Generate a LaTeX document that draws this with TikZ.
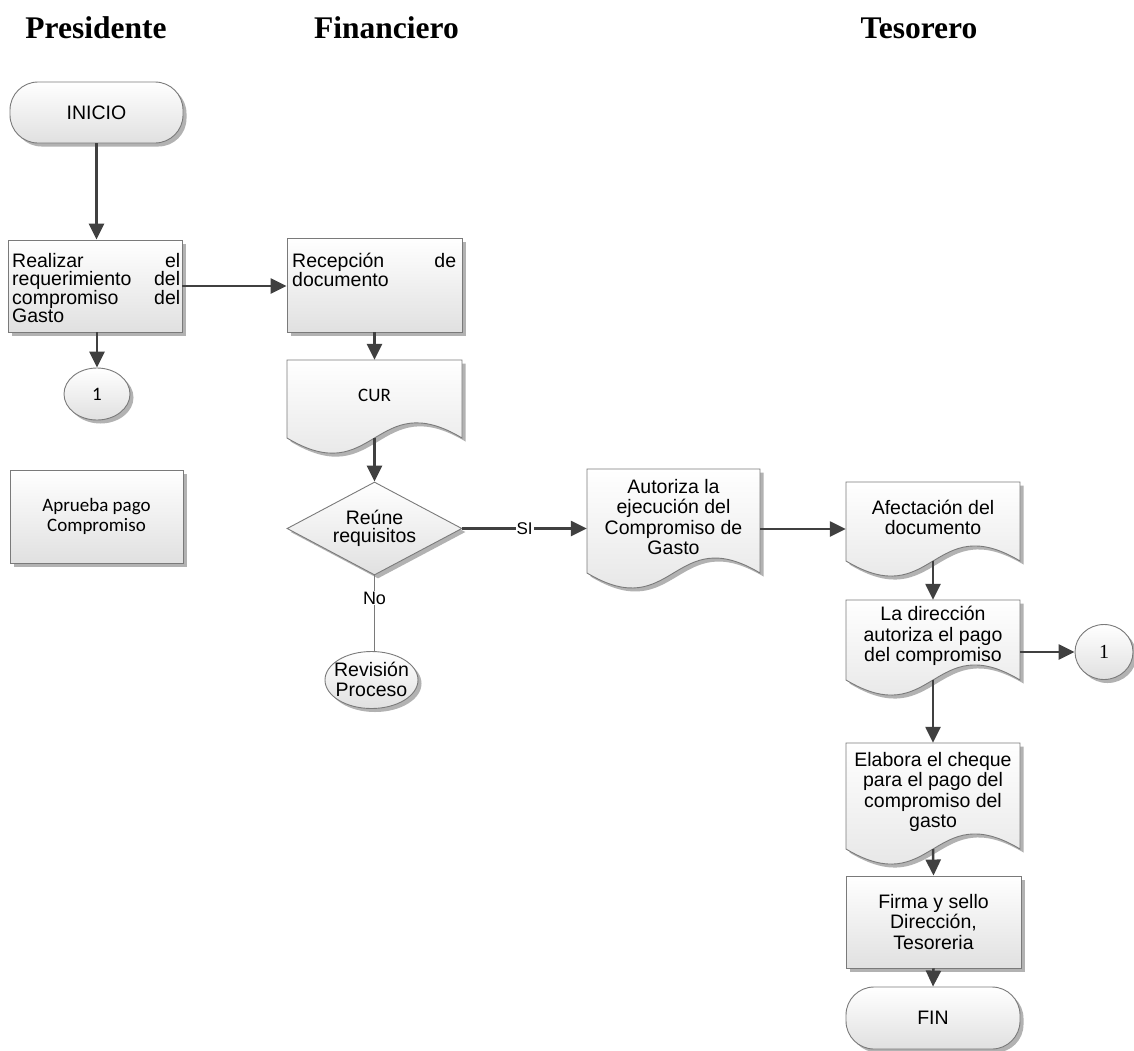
\documentclass[tikz,border=0pt]{standalone}
\usepackage{fontspec}
\setmainfont{Liberation Sans}
\newfontfamily\hdrfont{Liberation Serif}
\newfontfamily\calfont{Carlito}
\usetikzlibrary{shapes.geometric,arrows.meta,shadows,calc}
\definecolor{arrc}{HTML}{404040}
\definecolor{edgec}{HTML}{7A7A7A}
\newcommand\bodyfont{\fontsize{19.5}{18}\selectfont}
\tikzset{
  every node/.style={font=\fontsize{19.5}{20.5}\selectfont},
  shp/.style={draw=edgec, line width=0.9pt, top color=white, bottom color=black!12,
    drop shadow={shadow xshift=3.5pt, shadow yshift=-3.5pt, fill=black!30, opacity=1}},
  procbox/.style={shp, rectangle, inner sep=0pt},
  termbox/.style={shp, rectangle, rounded corners=28pt, inner sep=0pt},
  connbox/.style={shp, ellipse, inner sep=0pt},
  arr/.style={draw=arrc, line width=2.5pt, -{Triangle[length=16pt,width=15pt]}},
  thinline/.style={draw=edgec, line width=1pt},
  lbl/.style={fill=white, inner sep=1pt, font=\fontsize{17}{18}\selectfont},
  hdr/.style={anchor=base, font=\fontsize{31.5}{34}\selectfont\hdrfont\bfseries},
  jtext/.style={anchor=north west, inner sep=0pt, align=justify, font=\bodyfont},
}
\newcommand\mydoc[6]{%
  \pgfmathsetmacro\dw{#4-#2}%
  \pgfmathsetmacro\dh{#5-#3}%
  \pgfmathsetmacro\dm{(#2+#4)/2}%
  \pgfmathsetmacro\dc{(#3+#5)/2}%
  \pgfmathsetmacro\dd{0.3*\dw}%
  \fill[black!30] (#2+3.5,#3+3.5) -- (#4+3.5,#3+3.5) -- (#4+3.5,#5+3.5)
     .. controls (\dm+3.5,#5-\dd+3.5) and (\dm+3.5,#5+\dd+3.5) .. (#2+3.5,#5+3.5) -- cycle;
  \draw[draw=edgec, line width=0.9pt, top color=white, bottom color=black!12]
     (#2,#3) -- (#4,#3) -- (#4,#5)
     .. controls (\dm,#5-\dd) and (\dm,#5+\dd) .. (#2,#5) -- cycle;
  \node[minimum width=\dw pt, minimum height=\dh pt, inner sep=0pt] (#1) at (\dm,\dc) {};
  \node[inner sep=0pt, align=center] (#1t) at (\dm,\dc-4) {#6};
}
\begin{document}
\begin{tikzpicture}[x=1pt,y=-1pt]
\useasboundingbox[fill=white] (0,0) rectangle (1134,1050);

% headers
\node[hdr] (hpres) at (96,38) {Presidente};
\node[hdr] (hfin) at (386.5,38) {Financiero};
\node[hdr] (htes) at (919,38) {Tesorero};

% Presidente column
\node[termbox, minimum width=173pt, minimum height=61pt] (inicio) at (96.5,112.5) {INICIO};
\node[procbox, minimum width=174pt, minimum height=92pt] (box1) at (95,286) {};
\node[jtext, text width=168pt] (t1) at (12,253) {\bodyfont Realizar el\linebreak requerimiento del\linebreak compromiso del\linebreak Gasto};
\node[connbox, minimum width=66pt, minimum height=52pt, font=\fontsize{19}{20}\calfont] (c1a) at (97,394) {1};
\node[procbox, minimum width=173pt, minimum height=93pt, align=center, font=\fontsize{19}{20}\calfont] (aprueba) at (96.5,516.5) {Aprueba pago\\Compromiso};

% Financiero column
\node[procbox, minimum width=175pt, minimum height=94pt] (box2) at (374.5,285) {};
\node[jtext, text width=164pt] (t2) at (292,253) {\bodyfont Recepción de\linebreak documento};
\mydoc{cur}{287}{360}{462}{438}{\fontsize{19}{20}\calfont CUR}
\node[shp, diamond, aspect=1.88, minimum width=175pt, minimum height=93pt, inner sep=0pt, align=center, font=\fontsize{19.5}{18}\selectfont] (dec) at (374.5,528.5) {Reúne\\requisitos};
\node[connbox, minimum width=93pt, minimum height=57pt] (rev) at (371.5,680) {};
\node[inner sep=0pt, align=center, font=\fontsize{19.5}{20}\selectfont] (revt) at (371.5,679) {Revisión\\Proceso};

% middle document
\mydoc{autoriza}{587}{469}{760}{573}{Autoriza la\\ejecución del\\Compromiso de\\Gasto}

% Tesorero column
\mydoc{afect}{846}{482}{1020}{561}{Afectación del\\documento}
\mydoc{direc}{846}{600}{1020}{680}{La dirección\\autoriza el pago\\del compromiso}
\node[connbox, minimum width=58pt, minimum height=55pt, font=\fontsize{20}{20}\hdrfont] (c1b) at (1104,652) {1};
\mydoc{elabora}{846}{743}{1020}{849}{Elabora el cheque\\para el pago del\\compromiso del\\gasto}
\node[procbox, minimum width=175pt, minimum height=92pt, align=center] (firma) at (933.5,922) {Firma y sello\\Dirección,\\Tesoreria};
\node[termbox, minimum width=174pt, minimum height=62pt] (fin) at (933,1018) {FIN};

% connectors
\draw[arr] (inicio.south) -- (inicio.south |- box1.north);
\draw[arr] (c1a.north |- box1.south) -- (c1a.north);
\draw[arr] (box1.east) -- (box1.east -| box2.west);
\draw[arr] (box2.south) -- (cur.north);
\draw[arr] (cur.south) -- (dec.north);
\draw[arr] (dec.east) -- (dec.east -| autoriza.west) node[lbl, pos=0.5] {SI};
\draw[thinline] (dec.south) -- (dec.south |- rev.north) node[lbl, pos=0.3, font=\fontsize{18}{18}\selectfont] {No};
\coordinate (p1) at ([yshift=-8pt]autoriza.east);
\draw[arr] (p1) -- (p1 -| afect.west);
\draw[arr] (afect.south) -- (direc.north);
\draw[arr] (c1b.west -| direc.east) -- (c1b.west);
\draw[arr] (direc.south) -- (elabora.north);
\draw[arr] (elabora.south) -- (firma.north);
\draw[arr] (firma.south) -- (fin.north);
\end{tikzpicture}
\end{document}
